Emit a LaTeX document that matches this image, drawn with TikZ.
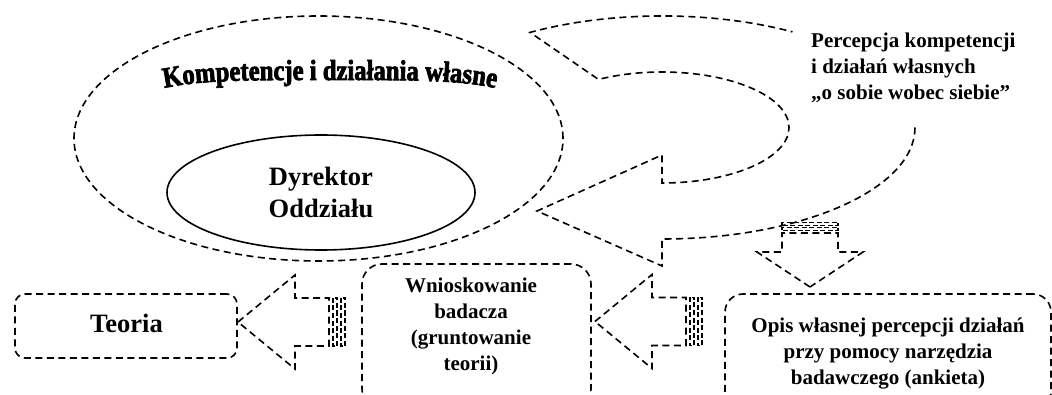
\documentclass[tikz,border=0pt]{standalone}
\usepackage{fontspec}
\setmainfont{Liberation Serif}
\newfontfamily\archfont[FakeStretch=0.85, BoldFeatures={FakeBold=2.5}]{Liberation Serif}
\usetikzlibrary{shapes.geometric, decorations.text}

\tikzset{
  dashline/.style={dash pattern=on 7pt off 4.5pt, line width=1.6pt},
  stripe/.style={dash pattern=on 5pt off 2.5pt, line width=1.3pt},
  rbox/.style={draw, dashline, inner sep=0pt},
  bigtxt/.style={font=\bfseries\fontsize{26.5}{31.5}\selectfont},
  smalltxt/.style={font=\bfseries\fontsize{21}{26}\selectfont},
  % striped block arrow pointing left, tip at the pic origin
  leftstriped/.pic={
    \draw[dashline] (0,0) -- (57,-47) -- (57,-24) -- (91,-24) -- (91,24)
      -- (57,24) -- (57,47) -- cycle;
    \draw[stripe] (95,-24) rectangle (99,24);
    \draw[stripe] (103,-24) rectangle (107,24);
  },
  % striped block arrow pointing down, tip at the pic origin
  downstriped/.pic={
    \draw[dashline] (0,0) -- (-53,-35) -- (-28,-35) -- (-28,-54) -- (28,-54)
      -- (28,-35) -- (53,-35) -- cycle;
    \draw[stripe] (-28,-56.5) rectangle (28,-59.5);
    \draw[stripe] (-28,-61.5) rectangle (28,-64.5);
  }
}

\begin{document}
\begin{tikzpicture}[x=1pt, y=-1pt]
\useasboundingbox (0,0) rectangle (1052,395);
\clip (0,0) rectangle (1052,395);

% own competences and actions
\node[ellipse, draw, dashline, minimum width=489pt, minimum height=245pt] (komp) at (318.5,138.5) {};
\path[decorate, decoration={text along path, text align=center,
    text={|\archfont\bfseries\fontsize{29}{29}\selectfont|Kompetencje i działania własne}}]
  (156,90) .. controls (195,80) and (240,80) .. (330,80)
  .. controls (420,80) and (465,80) .. (504,90);

% the director
\node[ellipse, draw, line width=1.6pt, minimum width=308pt, minimum height=115pt,
      inner sep=0pt, bigtxt, align=center] (dyr) at (321,192.5) {Dyrektor\\Oddziału};

% curved self-perception arrow
\draw[dashline] (915,127.5) arc[start angle=0, end angle=90, x radius=253, y radius=111.5]
  -- (662,266) -- (537,211) -- (662,155) -- (662,183)
  arc[start angle=90, end angle=-120, x radius=127, y radius=55.5]
  -- (530,32.4) arc[start angle=-121.5, end angle=-59, x radius=253, y radius=111.5];

\node[smalltxt, align=left, anchor=north west, inner sep=0pt] (perc) at (811,33.2)
  {Percepcja kompetencji\\i działań własnych\\„o sobie wobec siebie”};

% lower row of boxes
\node[rbox, rounded corners=10pt, minimum width=222pt, minimum height=64pt] (teoria) at (126,326) {};
\node[bigtxt, anchor=base, inner sep=0pt] (teoriaTxt) at (126.5,332) {Teoria};

\node[rbox, rounded corners=20pt, minimum width=229pt, minimum height=145pt] (wniosek) at (476.5,336.5) {};
\node[smalltxt, align=center, anchor=north, inner sep=0pt] (wniosekTxt) at (471,277.5)
  {Wnioskowanie\\badacza\\(gruntowanie\\teorii)};

\node[rbox, rounded corners=18pt, minimum width=326pt, minimum height=116pt] (opis) at (888,352) {};
\node[smalltxt, align=center, anchor=north, inner sep=0pt] (opisTxt) at (888,317.5)
  {Opis własnej percepcji działań\\przy pomocy narzędzia\\badawczego (ankieta)};

% striped block arrows
\pic at (238,322) {leftstriped};
\pic at (595,321.5) {leftstriped};
\pic at (810,287) {downstriped};
\end{tikzpicture}
\end{document}
